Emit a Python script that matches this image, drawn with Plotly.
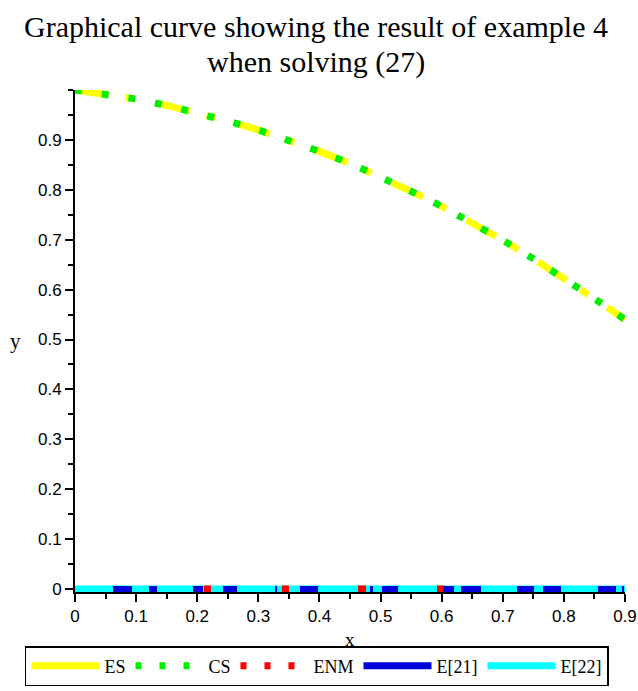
import plotly.graph_objects as go

x_vals = [0.0, 0.05, 0.1, 0.15, 0.2, 0.25, 0.3, 0.35, 0.4, 0.45, 0.5,
          0.55, 0.6, 0.65, 0.7, 0.75, 0.8, 0.85, 0.9]
es_vals = [1.0, 0.992, 0.982, 0.969, 0.955, 0.938, 0.920, 0.900, 0.877, 0.853,
           0.826, 0.797, 0.767, 0.734, 0.699, 0.662, 0.623, 0.582, 0.540]
cs_vals = [1.0, 0.992, 0.982, 0.969, 0.955, 0.938, 0.920, 0.900, 0.877, 0.853,
           0.826, 0.797, 0.767, 0.734, 0.699, 0.662, 0.623, 0.582, 0.540]
enm_vals = [0.0] * len(x_vals)
e21_vals = [0.0] * len(x_vals)
e22_vals = [0.0] * len(x_vals)

xticks = [0, 0.1, 0.2, 0.3, 0.4, 0.5, 0.6, 0.7, 0.8, 0.9]
xtick_labels = ["0", "0.1", "0.2", "0.3", "0.4", "0.5", "0.6", "0.7", "0.8", "0.9"]
yticks = [0, 0.1, 0.2, 0.3, 0.4, 0.5, 0.6, 0.7, 0.8, 0.9]
ytick_labels = ["0", "0.1", "0.2", "0.3", "0.4", "0.5", "0.6", "0.7", "0.8", "0.9"]

YELLOW = "#FFFF00"
GREEN = "#00EE00"
RED = "#FF0000"
BLUE = "#0000DD"
CYAN = "#00FFFF"

fig = go.Figure()
# plotted curves
fig.add_trace(go.Scatter(x=x_vals, y=e22_vals, mode="lines", showlegend=False,
                         line=dict(color=CYAN, width=7)))
fig.add_trace(go.Scatter(x=x_vals, y=enm_vals, mode="lines", showlegend=False,
                         line=dict(color=RED, width=7,
                                   dash="0px,129px,7px,71px,7px,69px,8px,71px,7px,1000px")))
fig.add_trace(go.Scatter(x=x_vals, y=e21_vals, mode="lines", showlegend=False,
                         line=dict(color=BLUE, width=6,
                                   dash="0px,38px,19px,17px,8px,36px,10px,20px,14px,38px,"
                                        "2px,23px,18px,52px,3px,9px,16px,45px,11px,7px,"
                                        "20px,36px,17px,9px,18px,37px,18px,6px,2px,1000px")))
fig.add_trace(go.Scatter(x=x_vals, y=es_vals, mode="lines", showlegend=False,
                         line=dict(color=YELLOW, width=7, dash="34px,17px,9px,23px")))
fig.add_trace(go.Scatter(x=x_vals, y=cs_vals, mode="lines", showlegend=False,
                         line=dict(color=GREEN, width=7, dash="7px,20px")))
# legend entries
fig.add_trace(go.Scatter(x=[None], y=[None], mode="lines", name="ES",
                         line=dict(color=YELLOW, width=7)))
fig.add_trace(go.Scatter(x=[None], y=[None], mode="lines", name="CS",
                         line=dict(color=GREEN, width=7, dash="6px,18px")))
fig.add_trace(go.Scatter(x=[None], y=[None], mode="lines", name="ENM",
                         line=dict(color=RED, width=7, dash="6px,18px")))
fig.add_trace(go.Scatter(x=[None], y=[None], mode="lines", name="E[21]",
                         line=dict(color=BLUE, width=7)))
fig.add_trace(go.Scatter(x=[None], y=[None], mode="lines", name="E[22]",
                         line=dict(color=CYAN, width=7)))

fig.update_layout(
    width=638, height=691,
    margin=dict(l=75, r=13, t=90, b=99, autoexpand=False),
    paper_bgcolor="white", plot_bgcolor="white",
    font=dict(family="Liberation Sans", size=17, color="black"),
    showlegend=True,
    legend=dict(orientation="h", x=-0.091, xanchor="left", y=-0.1076, yanchor="top",
                bordercolor="black", borderwidth=1.5, bgcolor="white",
                font=dict(family="Liberation Serif", size=18, color="black"),
                itemwidth=68, traceorder="normal", tracegroupgap=0),
    annotations=[
        dict(text="Graphical curve showing the result of example 4", x=0.438, xref="paper",
             y=1.1255, yref="paper", showarrow=False, yanchor="middle",
             font=dict(family="Liberation Serif", size=30, color="black")),
        dict(text="when solving (27)", x=0.438, xref="paper",
             y=1.0558, yref="paper", showarrow=False, yanchor="middle",
             font=dict(family="Liberation Serif", size=30, color="black")),
        dict(text="x", x=0.5, xref="paper", y=-0.094, yref="paper", showarrow=False,
             yanchor="middle",
             font=dict(family="Liberation Serif", size=19, color="black")),
        dict(text="y", x=-0.108, xref="paper", y=0.5, yref="paper", showarrow=False,
             xanchor="center", yanchor="middle",
             font=dict(family="Liberation Serif", size=21, color="black")),
    ],
)
fig.update_xaxes(range=[0, 0.9], tickvals=xticks, ticktext=xtick_labels,
                 showgrid=False, zeroline=False, showline=True, linecolor="black",
                 linewidth=2, ticks="outside", ticklen=8, tickwidth=1.5, tickcolor="black",
                 minor=dict(dtick=0.05, tick0=0, ticks="outside", ticklen=5, tickcolor="black"),
                 tickfont=dict(family="Liberation Sans", size=17, color="black"))
fig.update_yaxes(range=[-0.006, 1.0], tickvals=yticks, ticktext=ytick_labels,
                 showgrid=False, zeroline=False, showline=True, linecolor="black",
                 linewidth=2, ticks="outside", ticklen=8, tickwidth=1.5, tickcolor="black",
                 minor=dict(dtick=0.05, tick0=0, ticks="outside", ticklen=5, tickcolor="black"),
                 tickfont=dict(family="Liberation Sans", size=17, color="black"))

fig.write_html("out.html")
